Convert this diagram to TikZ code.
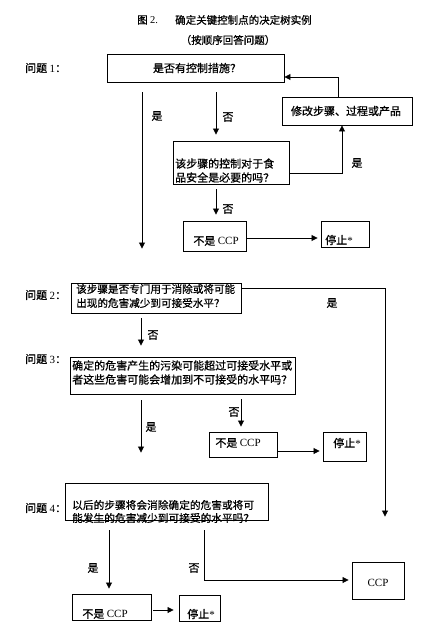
\documentclass[tikz,border=0pt]{standalone}
\usepackage{fontspec}
\setmainfont{Liberation Serif}
\newfontfamily\cjk[FakeBold=0.8]{Noto Sans CJK SC}
\usetikzlibrary{arrows.meta}
\begin{document}
\begin{tikzpicture}[x=1pt,y=-1pt,
  box/.style={draw, line width=0.9pt, inner sep=0pt},
  txt/.style={inner sep=0pt, font=\cjk\fontsize{11}{14}\selectfont, align=left},
  ttl/.style={inner sep=0pt, font=\cjk\fontsize{10.5}{12}\selectfont},
  lbl/.style={inner sep=0pt, font=\cjk\fontsize{11}{12}\selectfont},
  arr/.style={line width=0.8pt, -{Triangle[length=6pt,width=6pt]}}]
\useasboundingbox (0,0) rectangle (428,634);

% titles
\node[ttl, anchor=west] (tA) at (137,20) {图 {\rmfamily 2.}};
\node[ttl, anchor=west] (tB) at (175,20) {确定关键控制点的决定树实例};
\node[ttl] (tC) at (228,40) {（按顺序回答问题）};

% question labels
\node[lbl, anchor=west] (L1) at (25,68) {问题 {\rmfamily 1}：};
\node[lbl, anchor=west] (L2) at (25,295) {问题 {\rmfamily 2}：};
\node[lbl, anchor=west] (L3) at (25,359) {问题 {\rmfamily 3}：};
\node[lbl, anchor=west] (L4) at (25,508) {问题 {\rmfamily 4}：};

% boxes
\node[box, minimum width=177, minimum height=28] (b1) at (195.5,68) {};
\node[txt] (b1t) at (197,68) {是否有控制措施？};
\node[box, minimum width=130, minimum height=28] (mod) at (347,111) {};
\node[txt] (modt) at (346,111) {修改步骤、过程或产品};
\node[box, minimum width=116, minimum height=43] (b2) at (231,162.5) {};
\node[txt, anchor=west] (b2t) at (175,170.5) {该步骤的控制对于食\\品安全是必要的吗？};
\node[box, minimum width=63, minimum height=30] (n1) at (214.5,236) {};
\node[txt] (n1t) at (216,241) {不是 {\rmfamily CCP}};
\node[box, minimum width=48, minimum height=26] (s1) at (345,234) {};
\node[txt] (s1t) at (339,240) {停止{\rmfamily *}};

\node[box, minimum width=170, minimum height=30] (q2) at (156,298) {};
\node[txt, anchor=west, font=\cjk\fontsize{10.6}{14}\selectfont] (q2t) at (76,296) {该步骤是否专门用于消除或将可能\\出现的危害减少到可接受水平？};
\node[box, minimum width=225, minimum height=37] (q3) at (182.5,375.5) {};
\node[txt, anchor=west] (q3t) at (72,372.5) {确定的危害产生的污染可能超过可接受水平或\\者这些危害可能会增加到不可接受的水平吗？};
\node[box, minimum width=68, minimum height=25] (n2) at (243,444.5) {};
\node[txt] (n2t) at (238,443) {不是 {\rmfamily CCP}};
\node[box, minimum width=43, minimum height=29] (s2) at (344.5,446.5) {};
\node[txt] (s2t) at (347,443) {停止{\rmfamily *}};

\node[box, minimum width=203, minimum height=37] (q4) at (166.5,501.5) {};
\node[txt, anchor=west, font=\cjk\fontsize{10.7}{13}\selectfont] (q4t) at (72,511.5) {以后的步骤将会消除确定的危害或将可\\能发生的危害减少到可接受的水平吗？};
\node[box, minimum width=79, minimum height=26] (n3) at (111.5,607) {};
\node[txt] (n3t) at (105,614) {不是 {\rmfamily CCP}};
\node[box, minimum width=41, minimum height=26] (s3) at (199.5,608) {};
\node[txt] (s3t) at (201,614) {停止{\rmfamily *}};
\node[box, minimum width=52, minimum height=37] (ccp) at (378,580.5) {};
\node[txt, font=\rmfamily\fontsize{11}{12}\selectfont] (ccpt) at (378,583) {CCP};

% helper coordinates
\coordinate (xA) at (216,0);
\coordinate (xB) at (142,0);
\coordinate (xC) at (141,0);
\coordinate (xD) at (241,0);
\coordinate (xE) at (109,0);
\coordinate (xF) at (204,0);
\coordinate (c1) at (342,173);
\coordinate (d1) at (338,77);
\coordinate (g1) at (385,288);
\coordinate (m1) at (204,580);

% connectors
\draw[arr, shorten <=10pt, shorten >=34pt] (b1.south -| xB) -- (q2.north -| xB);
\draw[arr, shorten <=10pt, shorten >=6pt] (b1.south -| xA) -- (b2.north -| xA);
\draw[arr] ([yshift=-10.5pt]b2.east) -- (c1) -- (mod.south -| c1);
\draw[arr] (mod.north -| d1) -- (d1) -- (b1.east |- d1);
\draw[arr, shorten <=5pt, shorten >=6pt] (b2.south -| xA) -- (n1.north -| xA);
\draw[arr, shorten >=3pt] ([yshift=-2pt]n1.east) -- ([yshift=-2pt]n1.east -| s1.west);
\draw[arr, shorten >=45pt] ([yshift=10pt]q2.east) -- (g1) -- (ccp.north -| g1);
\draw[arr, shorten <=5pt, shorten >=11pt] (q2.south -| xC) -- (q3.north -| xC);
\draw[arr, shorten <=6pt, shorten >=30pt] (q3.south -| xC) -- (q4.north -| xC);
\draw[arr, shorten <=5pt, shorten >=5pt] (q3.south -| xD) -- (n2.north -| xD);
\draw[arr, shorten <=1pt, shorten >=3pt] ([yshift=-6.5pt]n2.east) -- ([yshift=-6.5pt]n2.east -| s2.west);
\draw[arr, shorten <=10pt, shorten >=5pt] (q4.south -| xE) -- (n3.north -| xE);
\draw[arr, shorten <=10pt, shorten >=3pt] (q4.south -| xF) -- (m1) -- (ccp.west |- m1);
\draw[arr, shorten <=2pt, shorten >=5pt] ([yshift=-3pt]n3.east) -- ([yshift=-3pt]n3.east -| s3.west);

% connector labels
\node[lbl] (ly1) at (157,116) {是};
\node[lbl] (ln1) at (228,117) {否};
\node[lbl] (ly2) at (357,163) {是};
\node[lbl] (ln2) at (228,209) {否};
\node[lbl] (ly3) at (332,303) {是};
\node[lbl] (ln3) at (153,335) {否};
\node[lbl] (ly4) at (151,427) {是};
\node[lbl] (ln4) at (234,412) {否};
\node[lbl] (ly5) at (93,568) {是};
\node[lbl] (ln5) at (194,568) {否};
\end{tikzpicture}
\end{document}
